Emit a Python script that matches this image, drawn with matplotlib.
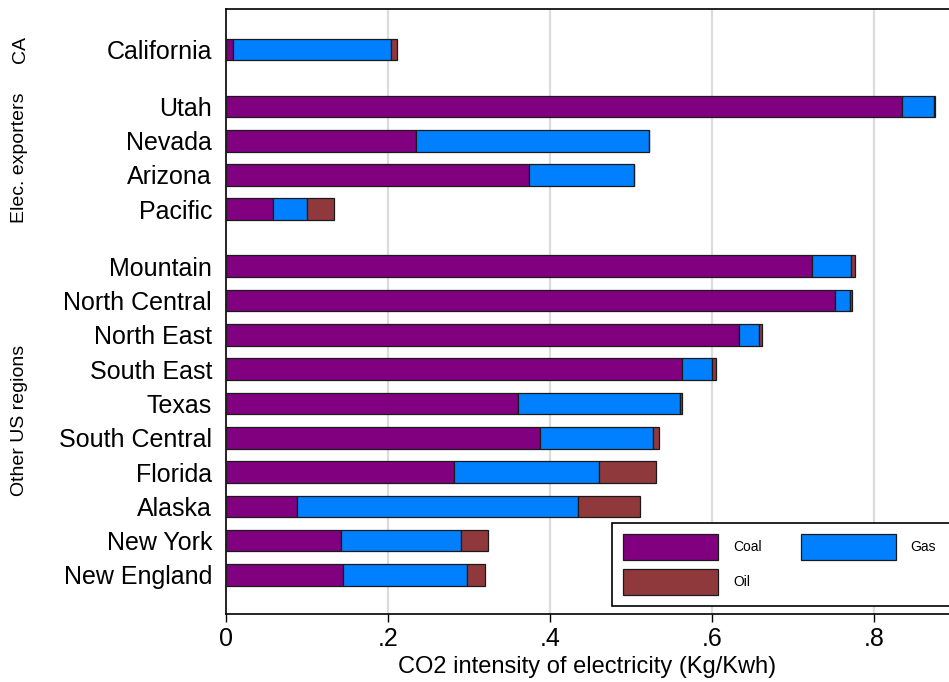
import matplotlib
matplotlib.use("Agg")
import matplotlib.pyplot as plt
import matplotlib.transforms as mtransforms
from matplotlib.patches import Patch, Rectangle
import numpy as np

plt.rcParams['font.family'] = ['Liberation Sans', 'DejaVu Sans']

# Data (top to bottom)
groups = ["CA", "Elec. exporters", "Other US regions"]
group_members = [
    ["California"],
    ["Utah", "Nevada", "Arizona", "Pacific"],
    ["Mountain", "North Central", "North East", "South East", "Texas",
     "South Central", "Florida", "Alaska", "New York", "New England"],
]
categories = [c for g in group_members for c in g]
coal = [0.009, 0.835, 0.234, 0.374, 0.058, 0.723, 0.752, 0.633, 0.563, 0.361,
        0.388, 0.281, 0.088, 0.142, 0.145]
gas = [0.195, 0.039, 0.288, 0.130, 0.042, 0.049, 0.018, 0.025, 0.037, 0.199,
       0.139, 0.180, 0.346, 0.148, 0.152]
oil = [0.007, 0.001, 0.000, 0.000, 0.033, 0.004, 0.003, 0.004, 0.005, 0.003,
       0.008, 0.070, 0.077, 0.033, 0.023]
series_names = ["Coal", "Gas", "Oil"]
colors = ["#800080", "#0080ff", "#90393d"]
xticks = [0, 0.2, 0.4, 0.6, 0.8]
xticklabels = ["0", ".2", ".4", ".6", ".8"]

# positions (bottom = 0), with extra gap between groups
gap = 0.66
pos = []
y = 0.0
group_pos = []
for g in reversed(group_members):
    gp = []
    for c in reversed(g):
        pos.append(y)
        gp.append(y)
        y += 1
    group_pos.append((min(gp), max(gp)))
    y += gap
pos = pos[::-1]
group_pos = group_pos[::-1]

W, H = 949, 682
fig = plt.figure(figsize=(W/100, H/100), dpi=100)
ax = fig.add_axes([226/W, 1-614/H, 1-226/W, (614-9)/H])

left = np.zeros(len(categories))
handles = {}
for vals, name, col in zip([coal, gas, oil], series_names, colors):
    ax.barh(pos, vals, left=left, height=0.63, color=col, edgecolor="#1a1a1a",
            linewidth=0.9, zorder=3)
    left = left + np.array(vals)
    handles[name] = Patch(facecolor=col, edgecolor="#1a1a1a", linewidth=0.9, label=name)

ax.set_xlim(0, (W-226)/810)
ax.set_ylim(-1.14, 16.5)
ax.set_yticks(pos)
ax.set_yticklabels(categories, fontsize=18)
ax.tick_params(axis="y", length=0, pad=10)
ax.set_xticks(xticks)
ax.set_xticklabels(xticklabels, fontsize=18)
ax.tick_params(axis="x", length=6, width=1, pad=3, direction="out")
ax.xaxis.grid(True, color="#dcdcdc", linewidth=1.6, zorder=0)
ax.set_axisbelow(True)
ax.get_xgridlines()[0].set_visible(False)
for s in ax.spines.values():
    s.set_linewidth(1.2)
    s.set_color("black")
ax.spines["right"].set_visible(False)
ax.set_xlabel("CO2 intensity of electricity (Kg/Kwh)", fontsize=17, labelpad=4)

trans = mtransforms.blended_transform_factory(fig.transFigure, ax.transData)
for name, (lo, hi) in zip(groups, group_pos):
    ax.text(20/W, (lo+hi)/2, name, transform=trans, rotation=90,
            ha="center", va="center", fontsize=14)

# legend frame (extends past the right edge like the reference)
fig.patches.append(Rectangle((612/W, 1-606/H), (970-612)/W, (606-522.7)/H,
                             transform=fig.transFigure, facecolor="white",
                             edgecolor="black", linewidth=1.2, zorder=5))
fs = 10
fpx = fs * 100 / 72
hh = (26/fpx - 0.245) / 0.65
leg = fig.legend(handles=[handles["Coal"], handles["Oil"], handles["Gas"]],
                 loc="upper left", bbox_to_anchor=(623/W, 1-534/H), ncol=2,
                 fontsize=fs, frameon=False,
                 handlelength=95/fpx, handleheight=hh, handletextpad=15/fpx,
                 columnspacing=2.8, borderpad=0, labelspacing=9/fpx,
                 borderaxespad=0)
leg.set_zorder(6)

fig.savefig("out.png", dpi=100)
